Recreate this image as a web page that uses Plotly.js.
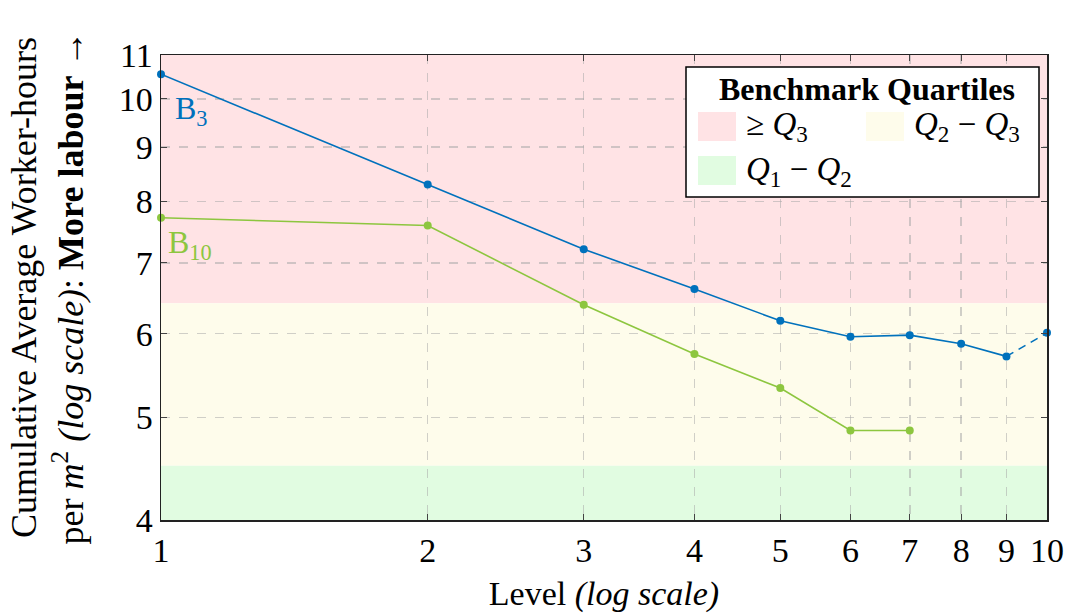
<!DOCTYPE html>
<html>
<head>
<meta charset="utf-8">
<script src="https://cdn.plot.ly/plotly-3.0.1.min.js"></script>
<style>html,body{margin:0;padding:0;background:#fff;}#chart{width:1069px;height:613px;}</style>
</head>
<body>
<div id="chart"></div>
<script>
// ---- data ----
const levels = [1, 2, 3, 4, 5, 6, 7, 8, 9, 10];
const b3Values = [10.55, 8.30, 7.21, 6.61, 6.17, 5.96, 5.98, 5.87, 5.71, 6.01];
const b10Values = [7.72, 7.59, 6.39, 5.74, 5.33, 4.86, 4.86];
const b3SolidCount = 9; // last B3 segment is dashed
const xTicks = [1, 2, 3, 4, 5, 6, 7, 8, 9, 10];
const yTicks = [4, 5, 6, 7, 8, 9, 10, 11];
const bandNames = ['\u2265 <i>Q</i><sub>3</sub>', '<i>Q</i><sub>2</sub> \u2212 <i>Q</i><sub>3</sub>', '<i>Q</i><sub>1</sub> \u2212 <i>Q</i><sub>2</sub>'];
const bandLow = [6.41, 4.5, 4];
const bandHigh = [11, 6.41, 4.5];
const bandColors = ['#FFE3E5', '#FEFCEB', '#E1FCE1'];

const BLUE = '#0071BC';
const GREEN = '#8DC63F';
const FONT = 'Liberation Serif, Times New Roman, serif';

// plot area in pixels (for legend placement)
const L = 161, T = 55, W = 886, H = 465;
const px = x => (x - L) / W;
const py = y => (T + H - y) / H;

const traces = [
  {x: levels.slice(0, b3SolidCount), y: b3Values.slice(0, b3SolidCount), mode: 'lines+markers',
   line: {color: BLUE, width: 1.6}, marker: {color: BLUE, size: 8}, showlegend: false, cliponaxis: false},
  {x: levels.slice(b3SolidCount - 1), y: b3Values.slice(b3SolidCount - 1), mode: 'lines',
   line: {color: BLUE, width: 1.6, dash: '8px,6px'}, showlegend: false, cliponaxis: false},
  {x: levels.slice(b3SolidCount), y: b3Values.slice(b3SolidCount), mode: 'markers',
   marker: {color: BLUE, size: 8}, showlegend: false, cliponaxis: false},
  {x: levels.slice(0, b10Values.length), y: b10Values, mode: 'lines+markers',
   line: {color: GREEN, width: 1.6}, marker: {color: GREEN, size: 8}, showlegend: false, cliponaxis: false}
];

const shapes = [];
for (let i = 0; i < bandNames.length; i++) {
  shapes.push({type: 'rect', xref: 'paper', yref: 'y', x0: 0, x1: 1, y0: bandLow[i], y1: bandHigh[i],
    fillcolor: bandColors[i], line: {width: 0}, layer: 'below'});
}
// legend box
shapes.push({type: 'rect', xref: 'paper', yref: 'paper', x0: px(686), x1: px(1039), y0: py(197), y1: py(67),
  fillcolor: '#ffffff', line: {color: '#000', width: 1.5}, layer: 'above'});
const swatchPos = [[698, 112], [866, 112], [698, 156]];
const annotations = [
  {xref: 'paper', yref: 'paper', x: px(867), y: py(89), text: '<b>Benchmark Quartiles</b>', showarrow: false,
   xanchor: 'center', yanchor: 'middle', font: {family: FONT, size: 32, color: '#000'}}
];
for (let i = 0; i < bandNames.length; i++) {
  const [sx, sy] = swatchPos[i];
  shapes.push({type: 'rect', xref: 'paper', yref: 'paper', x0: px(sx), x1: px(sx + 38), y0: py(sy + 29), y1: py(sy),
    fillcolor: bandColors[i], line: {width: 0}, layer: 'above'});
  annotations.push({xref: 'paper', yref: 'paper', x: px(sx + 46), y: py(sy + 15), text: bandNames[i], showarrow: false,
    xanchor: 'left', yanchor: 'middle', font: {family: FONT, size: 33, color: '#000'}});
}
// series labels
annotations.push({x: Math.log10(levels[0]), y: Math.log10(b3Values[0]), text: 'B<sub>3</sub>', showarrow: false,
  xanchor: 'left', yanchor: 'middle', xshift: 12, yshift: -36, font: {family: FONT, size: 32, color: BLUE}});
annotations.push({x: Math.log10(levels[0]), y: Math.log10(b10Values[0]), text: 'B<sub>10</sub>', showarrow: false,
  xanchor: 'left', yanchor: 'middle', xshift: 5, yshift: -27, font: {family: FONT, size: 32, color: GREEN}});

const layout = {
  width: 1069, height: 613,
  margin: {l: L, r: 1069 - L - W, t: T, b: 613 - T - H},
  paper_bgcolor: '#fff', plot_bgcolor: 'rgba(0,0,0,0)',
  font: {family: FONT, size: 30, color: '#000'},
  xaxis: {type: 'log', range: [Math.log10(1), Math.log10(10)], tickvals: xTicks, ticktext: xTicks.map(String),
    showgrid: true, gridcolor: 'rgba(170,170,170,0.55)', griddash: 'dash', gridwidth: 1.5,
    zeroline: false, showline: true, mirror: 'ticks', linecolor: '#222', linewidth: 1.5,
    ticks: 'inside', ticklen: 6, tickcolor: '#444', tickfont: {family: FONT, size: 34},
    title: {text: 'Level <i>(log scale)</i>', font: {family: FONT, size: 34}, standoff: 18}, automargin: false},
  yaxis: {type: 'log', range: [Math.log10(4), Math.log10(11)], tickvals: yTicks, ticktext: yTicks.map(String),
    showgrid: true, gridcolor: 'rgba(170,170,170,0.55)', griddash: 'dash', gridwidth: 1.5,
    zeroline: false, showline: true, mirror: 'ticks', linecolor: '#222', linewidth: 1.5,
    ticks: 'inside', ticklen: 6, tickcolor: '#444', tickfont: {family: FONT, size: 34},
    title: {text: 'Cumulative Average Worker-hours<br>per <i>m</i><sup>2</sup> <i>(log scale)</i>: <b>More labour</b> \u2192',
      font: {family: FONT, size: 36}, standoff: 24}, automargin: false},
  shapes: shapes,
  annotations: annotations,
  showlegend: false
};

Plotly.newPlot('chart', traces, layout, {displayModeBar: false, staticPlot: true});
</script>
</body>
</html>
